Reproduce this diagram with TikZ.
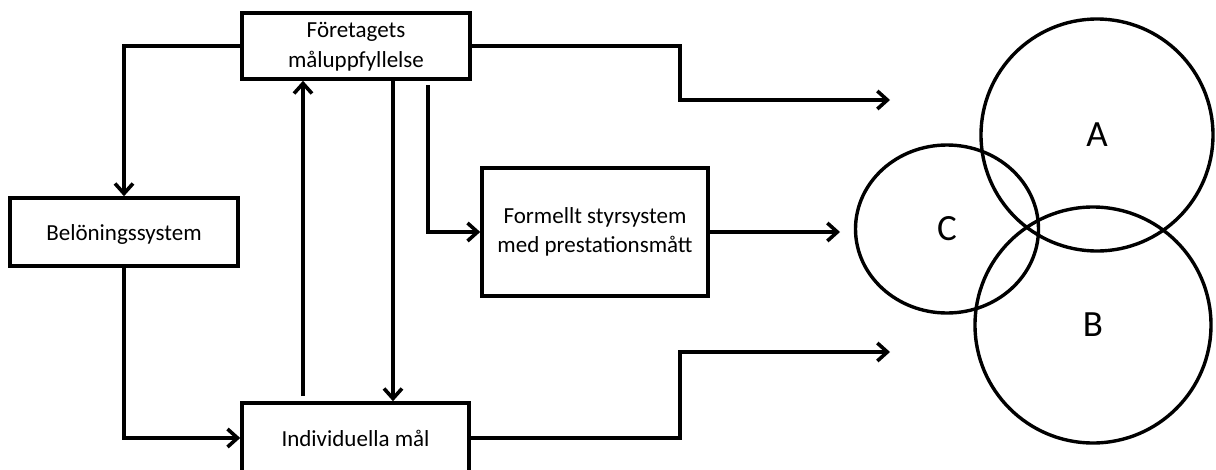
\documentclass[tikz,border=0pt]{standalone}
\usepackage{fontspec}
\setmainfont{Carlito}
\usetikzlibrary{arrows.meta,shapes.geometric}
\begin{document}
\begin{tikzpicture}[x=1pt,y=-1pt,line width=3.6pt,
  box/.style={draw,line width=3.6pt,inner sep=0pt,align=center,font=\fontsize{23}{30}\selectfont},
  ring/.style={draw,line width=3.4pt,inner sep=0pt,font=\fontsize{37}{42}\selectfont},
  arr/.style={-{Straight Barb[length=10pt,width=18pt]},line join=miter}]
\useasboundingbox (0,0) rectangle (1216,469);
\node[box,minimum width=228pt,minimum height=66pt,text height=47pt] (F) at (356,46) {Företagets\\måluppfyllelse};
\node[box,minimum width=228pt,minimum height=68pt,text height=21pt] (B) at (124,232) {Belöningssystem};
\node[box,minimum width=227pt,minimum height=70pt] (I) at (355.5,438) {Individuella mål};
\node[box,minimum width=226pt,minimum height=128pt,text height=44pt,font=\fontsize{23}{29}\selectfont] (M) at (595,232) {Formellt styrsystem\\med prestationsmått};
\node[ring,circle,minimum size=232pt] (A) at (1097,135) {A};
\node[ring,circle,minimum size=236pt] (Bc) at (1093,325) {B};
\node[ring,ellipse,minimum width=183pt,minimum height=168pt] (C) at (947,229) {C};
\coordinate (u1) at (303,396);
\coordinate (d1) at (393,79);
\coordinate (s1) at (428,85);
\coordinate (e1) at (890,100);
\coordinate (e2) at (840,232);
\coordinate (e3) at (890,352);
\coordinate (k1) at (680,73);
\coordinate (k2) at (680,400);
\draw[arr] (F.west) -| (B.north);
\draw[arr] (B.south) |- (I.west);
\draw[arr] (u1) -- (u1 |- F.south);
\draw[arr] (d1) -- (d1 |- I.north);
\draw[arr] (s1) |- (M.west);
\draw[arr] (M.east) -- (e2);
\draw[arr] (F.east) -| (k1) |- (e1);
\draw[arr] (I.east) -| (k2) |- (e3);
\end{tikzpicture}
\end{document}
